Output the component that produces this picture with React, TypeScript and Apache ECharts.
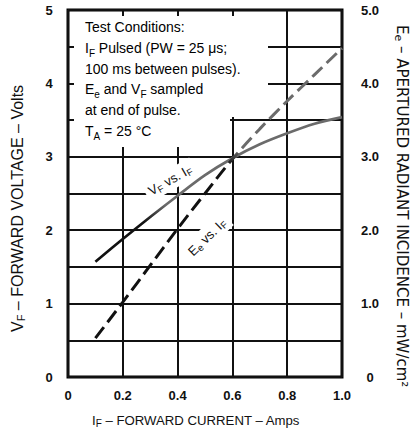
import React, { useEffect, useRef } from "react";
import * as echarts from "echarts";

// ---- data ----
const currentAmps = [0.1, 0.2, 0.3, 0.4, 0.5, 0.6, 0.7, 0.8, 0.9, 1.0];
const forwardVoltage = [1.57, 1.88, 2.18, 2.47, 2.75, 2.98, 3.17, 3.32, 3.45, 3.54];
const radiantIncidence = [0.53, 1.02, 1.52, 2.02, 2.5, 2.97, 3.38, 3.76, 4.12, 4.48];
const xTickLabels = ["0", "0.2", "0.4", "0.6", "0.8", "1.0"];
const leftTickLabels = ["0", "1", "2", "3", "4", "5"];
const rightTickLabels = ["0", "1.0", "2.0", "3.0", "4.0", "5.0"];

const FONT = "'Liberation Sans', Arial, Helvetica, sans-serif";
const INK = "#111";

const mainStyle = (size: number, lh: number) => ({
  fontSize: size,
  fontFamily: FONT,
  fill: INK,
  color: INK,
  lineHeight: lh,
});
const subStyle = (size: number, lh: number) => ({
  fontSize: size,
  fontFamily: FONT,
  fill: INK,
  color: INK,
  lineHeight: lh,
  verticalAlign: "bottom",
});

export default function App() {
  const ref = useRef<HTMLDivElement>(null);

  useEffect(() => {
    document.body.style.margin = "0";
    if (!ref.current) return;
    const chart = echarts.init(ref.current, undefined, { renderer: "svg" });

    const vfData = currentAmps.map((x, i) => [x, forwardVoltage[i]]);
    const eeData = currentAmps.map((x, i) => [x, radiantIncidence[i]]);

    const vfColor = new echarts.graphic.LinearGradient(
      0, 0, 0, 436,
      [
        { offset: 0, color: "#6b6b6b" },
        { offset: 0.47, color: "#6b6b6b" },
        { offset: 0.51, color: "#111" },
        { offset: 1, color: "#111" },
      ],
      true
    );
    const eeColor = new echarts.graphic.LinearGradient(
      0, 0, 0, 436,
      [
        { offset: 0, color: "#6b6b6b" },
        { offset: 0.344, color: "#6b6b6b" },
        { offset: 0.378, color: "#111" },
        { offset: 1, color: "#111" },
      ],
      true
    );

    const boxRich = {
      m: { ...mainStyle(14, 20.8), fill: "#000", color: "#000" },
      s: { ...subStyle(10, 13), fill: "#000", color: "#000" },
    };
    const boxText =
      "{m|Test Conditions:}\n" +
      "{m|I}{s|F}{m| Pulsed (PW = 25 μs;}\n" +
      "{m|100 ms between pulses).}\n" +
      "{m|E}{s|e}{m| and V}{s|F}{m| sampled}\n" +
      "{m|at end of pulse.}\n" +
      "{m|T}{s|A}{m| = 25 °C}";

    const labelRich = { m: mainStyle(13, 16), s: subStyle(9.5, 11) };

    const text = (
      x: number,
      y: number,
      str: string,
      rich: any,
      opts: any = {}
    ) => ({
      type: "text",
      x,
      y,
      z: 1,
      rotation: opts.rotation || 0,
      style: {
        text: str,
        rich,
        fill: INK,
        fontFamily: FONT,
        fontSize: 13,
        align: opts.align || "center",
        verticalAlign: opts.verticalAlign || "middle",
        backgroundColor: opts.bg,
        padding: opts.padding,
      },
    });

    const option: any = {
      animation: false,
      backgroundColor: "#fff",
      grid: {
        left: 68,
        right: 70,
        top: 10,
        bottom: 59,
        show: true,
        borderColor: "#000",
        borderWidth: 3,
        backgroundColor: "transparent",
      },
      xAxis: {
        type: "value",
        min: 0,
        max: 1,
        interval: 0.2,
        axisLine: { show: false },
        axisTick: { show: false },
        splitLine: { show: true, lineStyle: { color: INK, width: 2 } },
        axisLabel: {
          margin: 12,
          fontFamily: FONT,
          fontSize: 13,
          fontWeight: "bold",
          color: INK,
          formatter: (v: number) => xTickLabels[Math.round(v / 0.2)] ?? "",
        },
      },
      yAxis: [
        {
          type: "value",
          min: 0,
          max: 5,
          interval: 0.5,
          axisLine: { show: false },
          axisTick: { show: false },
          splitLine: { show: true, lineStyle: { color: INK, width: 2 } },
          axisLabel: {
            margin: 19,
            align: "center",
            fontFamily: FONT,
            fontSize: 13,
            fontWeight: "bold",
            color: INK,
            formatter: (v: number) =>
              Math.abs(v - Math.round(v)) < 1e-6 ? leftTickLabels[Math.round(v)] : "",
          },
        },
        {
          type: "value",
          position: "right",
          min: 0,
          max: 5,
          interval: 1,
          axisLine: { show: false },
          axisTick: { show: false },
          splitLine: { show: false },
          axisLabel: {
            margin: 28,
            align: "center",
            fontFamily: FONT,
            fontSize: 13,
            fontWeight: "bold",
            color: INK,
            formatter: (v: number) => rightTickLabels[Math.round(v)] ?? "",
          },
        },
      ],
      series: [
        {
          name: "VF vs. IF",
          type: "line",
          yAxisIndex: 0,
          data: vfData,
          smooth: 0.3,
          showSymbol: false,
          symbol: "none",
          z: 3,
          lineStyle: { color: vfColor, width: 2.7 },
        },
        {
          name: "Ee vs. IF",
          type: "line",
          yAxisIndex: 1,
          data: eeData,
          smooth: 0.3,
          showSymbol: false,
          symbol: "none",
          z: 3,
          lineStyle: { color: eeColor, width: 3, type: [14, 6], cap: "butt" },
        },
      ],
      graphic: [
        // white areas behind the notes (grid stubs remain at the edges)
        { type: "rect", z: 1, shape: { x: 74, y: 16, width: 156, height: 131 }, style: { fill: "#fff" } },
        { type: "rect", z: 1, shape: { x: 74, y: 16, width: 194, height: 101 }, style: { fill: "#fff" } },
        text(85, 16.6, boxText, boxRich, { align: "left", verticalAlign: "top" }),
        text(170, 180, "{m|V}{s|F}{m| vs. I}{s|F}", labelRich, {
          rotation: (30 * Math.PI) / 180,
          bg: "#fff",
          padding: [2, 4, 2, 4],
        }),
        text(207, 237, "{m|E}{s|e}{m| vs. I}{s|F}", labelRich, {
          rotation: (44 * Math.PI) / 180,
          bg: "#fff",
          padding: [2, 4, 2, 4],
        }),
        // axis titles (anchored at their start points)
        text(92, 420, "{m|I}{s|F}{m| – FORWARD CURRENT – Amps}", {
          m: mainStyle(13.2, 16),
          s: subStyle(10, 12),
        }, { align: "left" }),
        text(17, 332, "{m|V}{s|F}{m| – FORWARD VOLTAGE – Volts}", {
          m: mainStyle(16, 18),
          s: subStyle(11, 13),
        }, { rotation: Math.PI / 2, align: "left" }),
        text(402, 25, "{m|E}{s|e}{m| – APERTURED RADIANT INCIDENCE – mW/cm²}", {
          m: { ...mainStyle(15, 18), fontFamily: "'DejaVu Sans', sans-serif" },
          s: { ...subStyle(11, 13), fontFamily: "'DejaVu Sans', sans-serif" },
        }, { rotation: -Math.PI / 2, align: "left" }),
      ],
    };

    chart.setOption(option);
    return () => chart.dispose();
  }, []);

  return <div ref={ref} style={{ width: 412, height: 436 }} />;
}
